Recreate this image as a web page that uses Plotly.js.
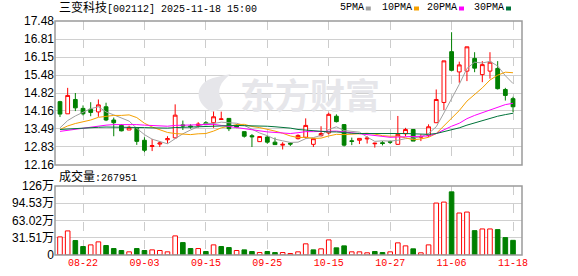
<!DOCTYPE html>
<html><head><meta charset="utf-8">
<script src="https://cdn.plot.ly/plotly-3.0.1.min.js"></script>
<style>html,body{margin:0;padding:0;background:#fff;}#chart{width:578px;height:276px;}</style>
</head><body><div id="chart"></div>
<script>
const dates = ['08-19','08-20','08-21','08-22','08-25','08-26','08-27','08-28','08-29','09-01',
'09-02','09-03','09-04','09-05','09-08','09-09','09-10','09-11','09-12','09-15',
'09-16','09-17','09-18','09-19','09-22','09-23','09-24','09-25','09-26','09-29',
'09-30','10-09','10-10','10-13','10-14','10-15','10-16','10-17','10-20','10-21',
'10-22','10-23','10-24','10-27','10-28','10-29','10-30','10-31','11-03','11-04',
'11-05','11-06','11-07','11-10','11-11','11-12','11-13','11-14','11-17','11-18'];
const open = [14.50,14.05,14.58,14.25,14.22,14.12,14.31,13.82,13.62,13.45,
13.51,13.07,12.84,12.93,13.09,13.16,13.64,13.60,13.62,13.72,
13.72,13.84,13.88,13.60,13.39,13.24,13.02,13.19,13.00,12.89,
12.96,13.13,13.18,12.92,13.24,13.34,13.96,13.65,13.05,13.07,
13.12,12.94,12.98,13.02,12.92,13.31,13.47,13.18,13.25,13.72,
14.47,16.35,15.60,15.63,16.10,15.50,15.63,15.73,14.95,14.61];
const high = [14.53,15.01,14.82,14.36,14.48,14.58,14.46,13.91,13.67,13.61,
13.55,13.18,13.12,13.03,13.22,14.40,13.80,13.66,13.74,13.78,
14.19,14.13,13.88,13.66,13.39,13.30,13.21,13.24,13.17,13.00,
13.00,13.29,13.88,13.13,13.59,14.09,14.03,13.67,13.17,13.14,
13.22,12.98,13.04,13.06,13.97,13.53,13.47,13.29,13.66,14.95,
16.01,17.07,15.98,16.53,16.33,16.00,16.33,16.00,15.01,14.68];
const low = [13.93,14.05,14.15,13.99,13.96,13.94,13.78,13.22,13.40,13.45,
12.90,12.63,12.67,12.82,12.95,13.13,13.45,13.50,13.54,13.63,
13.53,13.83,13.41,13.52,13.17,12.82,13.02,12.94,12.90,12.73,
12.86,13.10,13.13,12.82,13.21,13.29,13.73,12.84,12.89,12.93,
12.95,12.80,12.88,12.93,12.90,13.22,13.04,13.04,13.19,13.72,
14.19,15.62,15.20,15.26,15.59,15.22,15.35,14.95,14.54,14.11];
const close = [14.04,14.73,14.27,14.05,14.10,14.38,13.82,13.72,13.42,13.55,
13.03,12.70,12.87,12.97,13.13,14.00,13.60,13.57,13.67,13.65,
13.94,13.86,13.50,13.56,13.22,13.20,13.21,13.00,12.91,12.92,
12.93,13.25,13.62,13.13,13.32,14.03,13.76,12.89,13.03,13.14,
13.15,12.96,12.95,13.00,13.29,13.47,13.04,13.21,13.57,14.58,
16.01,15.66,15.86,16.53,15.74,15.87,15.96,14.98,14.73,14.31];
const prevClose = 13.40;
// volume in 万 (10k lots)
const volume = [33.1,44.0,26.4,15.5,18.5,24.0,17.3,11.8,8.2,5.8,
11.8,8.2,9.4,8.2,5.8,34.9,22.7,11.8,11.8,6.4,
18.5,15.5,13.6,8.2,9.4,6.4,4.5,6.4,4.5,4.5,
2.7,5.8,20.4,9.4,11.3,27.6,13.1,16.7,5.8,5.8,
4.0,6.4,4.5,5.8,22.2,16.7,11.3,4.0,18.5,94.9,
96.7,115.4,76.7,78.5,44.5,47.6,47.6,46.4,31.8,26.7951];
const ma5 = [13.53,13.80,13.97,14.10,14.24,14.31,14.12,14.01,13.89,13.78,
13.51,13.28,13.11,13.02,12.94,13.13,13.31,13.45,13.59,13.70,
13.69,13.74,13.72,13.70,13.62,13.47,13.34,13.24,13.11,13.05,
12.99,13.00,13.13,13.17,13.25,13.47,13.57,13.43,13.41,13.37,
13.19,13.03,13.05,13.04,13.07,13.13,13.15,13.20,13.32,13.57,
14.08,14.61,15.14,15.73,15.96,15.93,15.99,15.82,15.46,15.17];
const ma10 = [13.47,13.60,13.69,13.75,13.82,13.92,13.96,13.99,13.99,14.01,
13.91,13.70,13.56,13.46,13.36,13.32,13.30,13.28,13.31,13.32,
13.41,13.53,13.59,13.65,13.66,13.58,13.54,13.48,13.41,13.33,
13.23,13.17,13.18,13.14,13.15,13.23,13.29,13.28,13.29,13.31,
13.33,13.30,13.24,13.22,13.22,13.16,13.09,13.12,13.18,13.32,
13.61,13.88,14.17,14.52,14.77,15.01,15.30,15.48,15.59,15.57];
const ma20 = [13.40,13.44,13.48,13.51,13.54,13.60,13.63,13.65,13.65,13.66,
13.65,13.63,13.61,13.60,13.59,13.62,13.63,13.64,13.65,13.66,
13.66,13.62,13.58,13.55,13.51,13.45,13.42,13.38,13.36,13.33,
13.32,13.35,13.39,13.39,13.40,13.41,13.41,13.38,13.35,13.32,
13.28,13.24,13.21,13.18,13.19,13.20,13.19,13.20,13.23,13.32,
13.47,13.59,13.70,13.87,13.99,14.09,14.20,14.30,14.39,14.44];
const ma30 = [13.47,13.49,13.51,13.52,13.53,13.55,13.56,13.56,13.56,13.56,
13.55,13.54,13.53,13.52,13.52,13.54,13.55,13.56,13.57,13.58,
13.60,13.61,13.61,13.62,13.61,13.61,13.60,13.59,13.57,13.55,
13.52,13.47,13.45,13.41,13.39,13.38,13.38,13.35,13.33,13.32,
13.32,13.33,13.34,13.34,13.34,13.32,13.31,13.29,13.29,13.32,
13.39,13.45,13.53,13.63,13.71,13.80,13.89,13.96,14.02,14.07];
const tickDates = ['08-22','09-03','09-15','09-25','10-15','10-27','11-06','11-18'];
const priceTicks = [12.16,12.83,13.49,14.16,14.82,15.48,16.15,16.81,17.48];
const volTicks = [0,31.51,63.02,94.53,126];
const volTickText = ['0','31.51万','63.02万','94.53万','126万'];
const maNames = ['5PMA','10PMA','20PMA','30PMA'];
const stockTitle = '三变科技[002112] 2025-11-18 15:00';
const volLabel = '成交量:267951';
const watermark = '东方财富';

// ---- styling ----
const UP = '#ff0000', DOWN = '#008000';
const maColors = ['#a0a0a0','#f5a000','#ff00ff','#00733a'];
const W = 578, H = 276, ML = 55, MR = 56, MT = 21, MB = 21;
const PW = W - ML - MR, PH = H - MT - MB;
const px = x => (x - ML) / PW;
const py = y => (H - MB - y) / PH;
const MONO = 'Liberation Mono, DejaVu Sans Mono, Noto Sans CJK SC, monospace';
const SANS = 'Liberation Sans, Arial, Noto Sans CJK SC, sans-serif';

const volUp = close.map((c, i) => c > (i === 0 ? prevClose : close[i - 1]));

const traces = [{
  type: 'candlestick', x: dates, open: open, high: high, low: low, close: close,
  xaxis: 'x', yaxis: 'y', whiskerwidth: 0, hoverinfo: 'skip', showlegend: false,
  increasing: {line: {color: UP, width: 1}, fillcolor: '#ffffff'},
  decreasing: {line: {color: DOWN, width: 1}, fillcolor: DOWN}
}];
[ma5, ma10, ma20, ma30].forEach((m, k) => traces.push({
  type: 'scatter', mode: 'lines', x: dates, y: m, xaxis: 'x', yaxis: 'y',
  line: {color: maColors[k], width: 1}, hoverinfo: 'skip', showlegend: false, name: maNames[k]
}));
traces.push({
  type: 'bar', x: dates, y: volume, xaxis: 'x', yaxis: 'y2', width: 0.6,
  marker: {color: volUp.map(u => u ? '#ffffff' : DOWN),
           line: {color: volUp.map(u => u ? UP : DOWN), width: 1}},
  hoverinfo: 'skip', showlegend: false
});

const annotations = [
  {text: '<span style="font-size:12px">三变科技</span>' + stockTitle.slice(4), x: px(57), y: py(8),
   xref: 'paper', yref: 'paper', xanchor: 'left', yanchor: 'middle', showarrow: false,
   font: {family: MONO, size: 10, color: '#000'}},
  {text: '<span style="font-size:12px">成交量</span>' + volLabel.slice(3), x: px(57), y: py(177),
   xref: 'paper', yref: 'paper', xanchor: 'left', yanchor: 'middle', showarrow: false,
   font: {family: MONO, size: 10, color: '#000'}},
  {text: watermark, x: px(310), y: py(93), xref: 'paper', yref: 'paper',
   xanchor: 'center', yanchor: 'middle', showarrow: false,
   font: {family: 'Noto Sans CJK SC', size: 35, color: '#e6e6ea', weight: 'bold'}}
];
const legendX = [338, 380, 425, 472];
const shapes = [];
maNames.forEach((n, k) => {
  annotations.push({text: n, x: px(legendX[k]), y: py(8), xref: 'paper', yref: 'paper',
    xanchor: 'left', yanchor: 'middle', showarrow: false, font: {family: MONO, size: 10, color: '#000'}});
  const sx = legendX[k] + 6.2 * n.length + 3;
  shapes.push({type: 'rect', xref: 'paper', yref: 'paper', x0: px(sx), x1: px(sx + 5),
    y0: py(10.5), y1: py(6.5), fillcolor: maColors[k], line: {width: 0}});
});
// flame logo of watermark
const fl = [[212,112],[196,104],[194,88],[208,80],[214,77],[222,76],[231,74],[220,82],[216,91],[222,100],[225,106],[220,110],[212,112]];
let p = 'M' + px(fl[0][0]) + ',' + py(fl[0][1]);
for (let i = 1; i < fl.length; i += 3) {
  p += ' C' + [fl[i], fl[i+1], fl[i+2]].map(q => px(q[0]) + ',' + py(q[1])).join(' ');
}
p += ' Z';
shapes.push({type: 'path', xref: 'paper', yref: 'paper', path: p, fillcolor: '#e6e6ea', line: {width: 0}});
// panel borders
['y', 'y2'].forEach(ya => shapes.push({type: 'rect', xref: 'x domain', yref: ya + ' domain',
  x0: 0, x1: 1, y0: 0, y1: 1, line: {color: '#9a9a9a', width: 1.5}, fillcolor: 'rgba(0,0,0,0)'}));

const layout = {
  width: W, height: H, margin: {l: ML, r: MR, t: MT, b: MB, pad: 0},
  paper_bgcolor: '#ffffff', plot_bgcolor: '#ffffff', showlegend: false,
  font: {family: SANS, size: 12, color: '#000'},
  xaxis: {type: 'category', range: [-0.65, 60.17], anchor: 'y2', tickvals: tickDates, ticktext: tickDates,
    showgrid: true, gridcolor: '#cccccc', griddash: 'dash', gridwidth: 1, ticks: '',
    tickfont: {family: MONO, size: 10, color: UP}, rangeslider: {visible: false},
    showline: false, zeroline: false, fixedrange: true},
  yaxis: {domain: [py(165), 1], range: [12.155, 17.485], tickvals: priceTicks,
    ticktext: priceTicks.map(v => v.toFixed(2)), showgrid: true, gridcolor: '#d0d0d0', gridwidth: 1,
    zeroline: false, ticks: '', tickfont: {family: SANS, size: 12, color: '#000'}, fixedrange: true},
  yaxis2: {domain: [0, py(186)], range: [0, 126.1], tickvals: volTicks, ticktext: volTickText,
    showgrid: true, gridcolor: '#d0d0d0', gridwidth: 1, zeroline: false, ticks: '',
    tickfont: {family: SANS, size: 12, color: '#000'}, fixedrange: true},
  annotations: annotations, shapes: shapes, bargap: 0.3
};
Plotly.newPlot('chart', traces, layout, {displayModeBar: false, staticPlot: true});
</script></body></html>
